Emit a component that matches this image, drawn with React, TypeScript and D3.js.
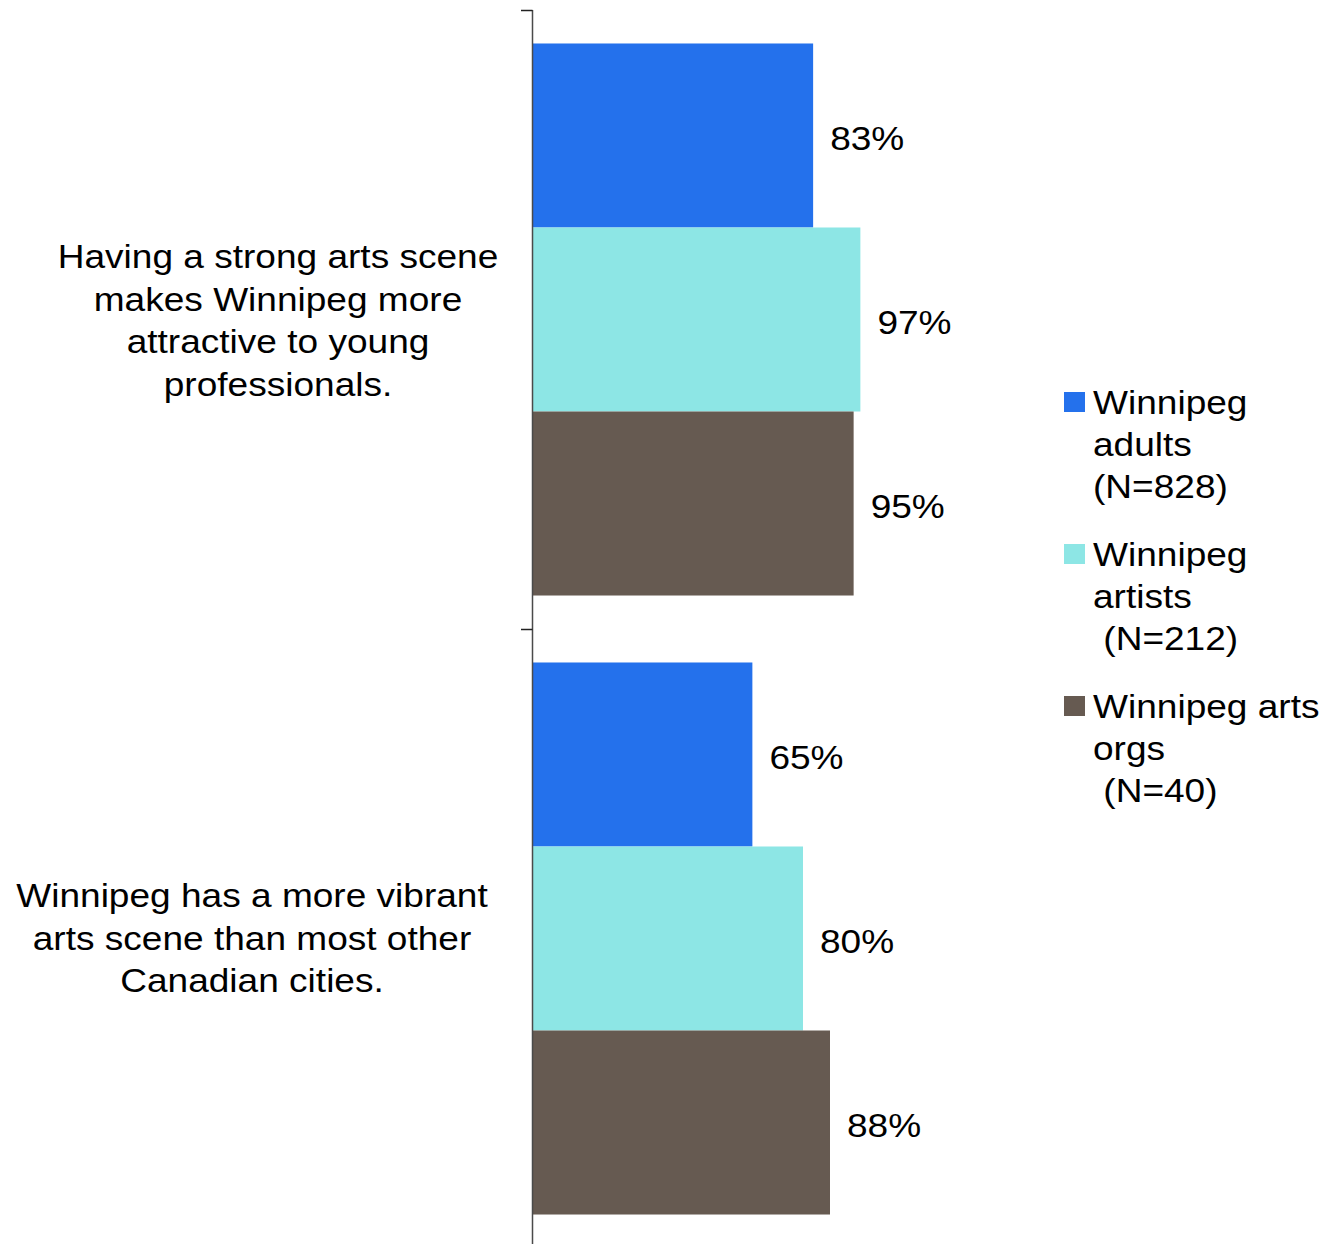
import { useEffect, useRef } from 'react';
import * as d3 from 'd3';

// Categories (each is a list of wrapped lines, as drawn in the chart)
const categories = ['strong', 'vibrant'];
const categoryLines = [
  ['Having a strong arts scene', 'makes Winnipeg more', 'attractive to young', 'professionals.'],
  ['Winnipeg has a more vibrant', 'arts scene than most other', 'Canadian cities.'],
];

// Series
const seriesKeys = ['adults', 'artists', 'orgs'];
const seriesLegend = [
  ['Winnipeg', 'adults', '(N=828)'],
  ['Winnipeg', 'artists', ' (N=212)'],
  ['Winnipeg arts', 'orgs', ' (N=40)'],
];
const adultsValues = [0.83, 0.65];
const artistsValues = [0.97, 0.8];
const orgsValues = [0.95, 0.88];

const W = 1324;
const H = 1244;
const COLORS = ['#2471EC', '#8DE6E5', '#665A51'];
const FONT = "'Liberation Sans', Arial, Helvetica, sans-serif";
const FS = 34;
const SX = 1.09; // text is a touch wide in the original
const AXIS_X = 532.5;
// per-category label layout (centre x, vertical nudge)
const LABEL_CX = [278, 252];
const LABEL_DY = [12.5, 11];

export default function App() {
  const ref = useRef<SVGSVGElement>(null);

  useEffect(() => {
    const svg = d3.select(ref.current);
    svg.selectAll('*').remove();

    const values = [adultsValues, artistsValues, orgsValues];

    const y = d3.scaleBand<string>()
      .domain(categories)
      .range([10, 1248])
      .paddingInner(0)
      .paddingOuter(0);

    const ySeries = d3.scaleBand<string>()
      .domain(seriesKeys)
      .range([0, y.bandwidth()])
      .paddingInner(0)
      .paddingOuter(0.182);

    const x = d3.scaleLinear().domain([0, 1]).range([533, 533 + 337.5]);

    const g = svg.append('g');

    // Bars
    categories.forEach((cat, ci) => {
      seriesKeys.forEach((key, si) => {
        const v = values[si][ci];
        const by = (y(cat) as number) + (ySeries(key) as number);
        const bh = ySeries.bandwidth();
        g.append('rect')
          .attr('x', x(0))
          .attr('y', by)
          .attr('width', x(v) - x(0))
          .attr('height', bh)
          .attr('fill', COLORS[si]);

        g.append('text')
          .attr('transform', `translate(${x(v) + 17},${by + bh / 2 + 14.5}) scale(${SX},1)`)
          .attr('font-family', FONT)
          .attr('font-size', FS)
          .attr('fill', '#000')
          .text(`${Math.round(v * 100)}%`);
      });
    });

    // Axis line + ticks
    g.append('line')
      .attr('x1', AXIS_X).attr('x2', AXIS_X)
      .attr('y1', 10).attr('y2', H)
      .attr('stroke', '#4a4a4a')
      .attr('stroke-width', 1.5);

    const tickYs = [...categories.map((c) => y(c) as number), y.range()[1]];
    tickYs.forEach((ty) => {
      g.append('line')
        .attr('x1', 521).attr('x2', AXIS_X)
        .attr('y1', ty + 0.5).attr('y2', ty + 0.5)
        .attr('stroke', '#222')
        .attr('stroke-width', 1.5);
    });

    // Category labels
    const LH = 42.7;
    categories.forEach((cat, ci) => {
      const lines = categoryLines[ci];
      const cy = (y(cat) as number) + y.bandwidth() / 2 + LABEL_DY[ci];
      lines.forEach((ln, li) => {
        const by = cy + (li - (lines.length - 1) / 2) * LH;
        g.append('text')
          .attr('transform', `translate(${LABEL_CX[ci]},${by}) scale(${SX},1)`)
          .attr('text-anchor', 'middle')
          .attr('font-family', FONT)
          .attr('font-size', FS)
          .attr('fill', '#000')
          .text(ln);
      });
    });

    // Legend
    const legendTop = [414, 566, 718];
    seriesKeys.forEach((key, si) => {
      const base = legendTop[si];
      g.append('rect')
        .attr('x', 1064)
        .attr('y', base - 22)
        .attr('width', 21)
        .attr('height', 20)
        .attr('fill', COLORS[si]);
      seriesLegend[si].forEach((ln, li) => {
        g.append('text')
          .attr('transform', `translate(1093,${base + li * 42}) scale(${SX},1)`)
          .attr('font-family', FONT)
          .attr('font-size', FS)
          .attr('fill', '#000')
          .style('white-space', 'pre')
          .text(ln);
      });
    });
  }, []);

  return (
    <svg
      ref={ref}
      width={W}
      height={H}
      style={{ position: 'absolute', left: 0, top: 0, background: '#fff' }}
    />
  );
}
